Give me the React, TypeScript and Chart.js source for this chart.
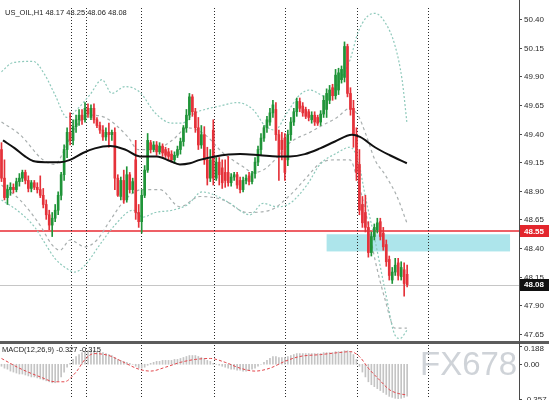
import { useEffect, useRef } from 'react';
import { Chart, registerables } from 'chart.js';

Chart.register(...registerables);

// ---- header / titles ----
const SYMBOL_TITLE = 'US_OIL,H1 48.17 48.25 48.06 48.08';
const MACD_TITLE = 'MACD(12,26,9) -0.327 -0.315';
const WATERMARK = 'FX678';

// ---- hourly candles (bar index 0..136) ----
const candleOpen = [
  49.26, 49.01, 48.84, 48.91, 48.93, 48.91, 48.98, 49.01, 49.06, 48.99,
  48.92, 48.97, 48.93, 48.91, 48.86, 48.78, 48.69, 48.60, 48.66, 48.73,
  48.86, 49.04, 49.26, 49.41, 49.34, 49.46, 49.52, 49.56, 49.52, 49.62,
  49.54, 49.62, 49.52, 49.47, 49.43, 49.37, 49.41, 49.39, 49.41, 49.01,
  48.85, 48.99, 48.82, 49.04, 48.91, 49.17, 48.71, 48.63, 48.86, 49.08,
  49.32, 49.26, 49.30, 49.24, 49.29, 49.26, 49.24, 49.22, 49.17, 49.21,
  49.26, 49.33, 49.45, 49.56, 49.72, 49.59, 49.45, 49.30, 49.39, 49.17,
  49.01, 49.43, 49.01, 49.15, 49.10, 49.06, 49.06, 48.97, 49.02, 49.04,
  48.99, 48.91, 48.99, 49.03, 48.98, 49.05, 49.15, 49.26, 49.36, 49.45,
  49.50, 49.58, 49.61, 49.39, 49.34, 49.36, 49.17, 49.39, 49.50, 49.59,
  49.68, 49.64, 49.61, 49.59, 49.52, 49.56, 49.54, 49.50, 49.57, 49.61,
  49.69, 49.80, 49.73, 49.78, 49.87, 49.89, 50.16, 49.75, 49.62, 49.39,
  49.13, 48.78, 48.71, 48.58, 48.36, 48.50, 48.56, 48.63, 48.53, 48.43,
  48.30, 48.12, 48.19, 48.27, 48.15, 48.21, 48.17,
];
const candleHigh = [
  49.32, 49.17, 48.95, 48.97, 48.96, 49.01, 49.05, 49.08, 49.08, 49.03,
  48.99, 48.99, 48.97, 49.03, 48.92, 48.82, 48.73, 48.71, 48.78, 48.89,
  49.06, 49.30, 49.45, 49.58, 49.52, 49.56, 49.61, 49.61, 49.67, 49.66,
  49.65, 49.66, 49.54, 49.50, 49.47, 49.45, 49.49, 49.43, 49.45, 49.04,
  49.02, 49.08, 49.11, 49.06, 49.01, 49.34, 48.78, 48.91, 49.12, 49.40,
  49.34, 49.33, 49.33, 49.32, 49.31, 49.28, 49.27, 49.25, 49.24, 49.29,
  49.36, 49.47, 49.61, 49.75, 49.74, 49.62, 49.54, 49.47, 49.46, 49.28,
  49.26, 49.52, 49.19, 49.19, 49.17, 49.17, 49.20, 49.05, 49.06, 49.06,
  49.02, 49.02, 49.04, 49.06, 49.07, 49.19, 49.29, 49.40, 49.47, 49.55,
  49.62, 49.69, 49.67, 49.43, 49.41, 49.40, 49.43, 49.54, 49.62, 49.71,
  49.71, 49.67, 49.63, 49.61, 49.59, 49.59, 49.56, 49.60, 49.73, 49.79,
  49.82, 49.83, 49.96, 49.97, 49.99, 50.20, 50.18, 49.80, 49.69, 49.45,
  49.26, 48.85, 48.86, 48.63, 48.54, 48.61, 48.66, 48.66, 48.58, 48.47,
  48.33, 48.23, 48.31, 48.31, 48.28, 48.27, 48.25,
];
const candleLow = [
  48.98, 48.82, 48.78, 48.86, 48.88, 48.89, 48.94, 48.98, 48.96, 48.89,
  48.89, 48.91, 48.88, 48.84, 48.75, 48.65, 48.56, 48.50, 48.63, 48.69,
  48.82, 48.99, 49.19, 49.30, 49.30, 49.41, 49.47, 49.48, 49.50, 49.54,
  49.52, 49.49, 49.45, 49.40, 49.34, 49.34, 49.28, 49.34, 48.91, 48.85,
  48.82, 48.79, 48.80, 48.88, 48.88, 48.65, 48.58, 48.53, 48.84, 49.06,
  49.23, 49.24, 49.21, 49.22, 49.20, 49.19, 49.17, 49.15, 49.14, 49.19,
  49.22, 49.29, 49.41, 49.52, 49.55, 49.41, 49.26, 49.27, 49.13, 48.95,
  48.98, 48.95, 48.99, 48.95, 48.92, 48.93, 48.94, 48.94, 48.99, 48.92,
  48.88, 48.89, 48.96, 48.95, 48.96, 49.01, 49.12, 49.21, 49.33, 49.41,
  49.47, 49.54, 49.34, 48.99, 49.17, 48.99, 49.12, 49.34, 49.47, 49.55,
  49.59, 49.55, 49.53, 49.51, 49.49, 49.47, 49.47, 49.47, 49.54, 49.54,
  49.66, 49.69, 49.70, 49.74, 49.84, 49.85, 49.72, 49.56, 49.28, 48.99,
  48.69, 48.58, 48.54, 48.32, 48.33, 48.47, 48.53, 48.47, 48.38, 48.24,
  48.12, 48.09, 48.16, 48.12, 48.12, 47.98, 48.06,
];
const candleClose = [
  49.01, 48.84, 48.91, 48.93, 48.91, 48.98, 49.01, 49.06, 48.99, 48.92,
  48.97, 48.93, 48.91, 48.86, 48.78, 48.69, 48.60, 48.66, 48.73, 48.86,
  49.04, 49.26, 49.41, 49.34, 49.46, 49.52, 49.56, 49.52, 49.62, 49.57,
  49.62, 49.52, 49.47, 49.43, 49.37, 49.41, 49.39, 49.41, 49.01, 48.86,
  48.99, 48.82, 49.04, 48.91, 48.98, 48.71, 48.63, 48.86, 49.08, 49.34,
  49.26, 49.30, 49.24, 49.29, 49.23, 49.21, 49.20, 49.17, 49.21, 49.26,
  49.33, 49.45, 49.56, 49.72, 49.59, 49.45, 49.30, 49.39, 49.17, 49.01,
  49.17, 49.01, 49.15, 49.04, 48.97, 48.99, 48.97, 49.02, 49.04, 48.95,
  48.91, 48.99, 49.01, 48.98, 49.05, 49.15, 49.26, 49.36, 49.45, 49.52,
  49.58, 49.65, 49.39, 49.21, 49.26, 49.06, 49.39, 49.50, 49.59, 49.68,
  49.62, 49.58, 49.55, 49.54, 49.56, 49.50, 49.49, 49.57, 49.69, 49.75,
  49.78, 49.73, 49.91, 49.93, 49.96, 50.16, 49.75, 49.61, 49.39, 49.06,
  48.73, 48.62, 48.58, 48.36, 48.50, 48.58, 48.62, 48.50, 48.41, 48.28,
  48.16, 48.19, 48.25, 48.16, 48.23, 48.09, 48.08,
];

// ---- moving average (bar position, price) ----
const maBar = [0.5, 4.5, 7.9, 10.6, 14.6, 19.6, 23, 27.3, 31.3, 36.4, 41.4, 46.4, 52.1, 56.5, 59.8,
  63.2, 66.5, 71.6, 80, 86.7, 92.4, 96.7, 101.7, 106.8, 111.8, 117.5, 120.2, 125.2, 130.2, 135.9];
const maPrice = [49.34, 49.27, 49.20, 49.16, 49.15, 49.15, 49.17, 49.23, 49.27, 49.29, 49.26, 49.20, 49.20, 49.16, 49.13,
  49.14, 49.17, 49.20, 49.22, 49.21, 49.20, 49.20, 49.22, 49.27, 49.33, 49.39, 49.37, 49.28, 49.21, 49.14];

// ---- outer bands (dotted) ----
const outerUpperBar = [0, 3.9, 10.6, 14.6, 17.9, 22, 25.3, 29.7, 33.7, 37, 41.4, 46.4, 51.5, 57.2, 60.5, 64.9, 68.2,
  73.2, 79, 84.3, 88.3, 91.7, 95.7, 100.1, 103.4, 109.1, 113.5, 116.8, 119.5, 122.2, 125.2, 128.6, 131.9, 134.3, 135.9];
const outerUpperPrice = [49.94, 50.02, 50.03, 49.91, 49.74, 49.54, 49.61, 49.74, 49.87, 49.75, 49.81, 49.76, 49.58, 49.49,
  49.49, 49.58, 49.61, 49.64, 49.67, 49.61, 49.47, 49.43, 49.58, 49.74, 49.78, 49.72, 49.87, 50.04, 50.28, 50.41, 50.45,
  50.37, 50.17, 49.87, 49.50];
const outerLowerBar = [0, 6.2, 11.2, 14.6, 17.9, 21.3, 24.6, 28, 33, 38, 44.1, 47.4, 51.5, 57.2, 62.5, 67.2, 71.6, 76.6,
  83.3, 87.7, 92.4, 96.7, 102.4, 106.8, 112.5, 116.8, 119.5, 122.2, 125.2, 128.6, 131.9, 133.6, 135.9];
const outerLowerPrice = [48.82, 48.71, 48.58, 48.44, 48.31, 48.23, 48.19, 48.25, 48.43, 48.60, 48.73, 48.67, 48.71, 48.73,
  48.78, 48.89, 48.86, 48.79, 48.69, 48.79, 48.76, 48.79, 48.95, 49.13, 49.23, 49.28, 49.17, 48.82, 48.47, 48.03, 47.64,
  47.61, 47.68];

// ---- inner bands (dashed) ----
const innerUpperBar = [0, 6.2, 13.9, 17.9, 21.3, 24.6, 29.7, 34.7, 42.4, 45.8, 51.5, 57.2, 62.5, 68.2, 74.3, 81, 84.3,
  87.7, 92.4, 96.7, 103.4, 106.8, 112.5, 116.8, 119.5, 122.2, 125.2, 128.6, 132.6, 135.9];
const innerUpperPrice = [49.50, 49.39, 49.17, 49.13, 49.27, 49.45, 49.56, 49.54, 49.37, 49.26, 49.26, 49.34, 49.45, 49.39,
  49.23, 49.11, 49.06, 49.08, 49.19, 49.32, 49.41, 49.46, 49.54, 49.62, 49.56, 49.39, 49.17, 49.04, 48.85, 48.62];
const innerLowerBar = [0, 6.2, 12.9, 16.9, 19.6, 23, 28, 32, 36.4, 41.4, 47.1, 53.1, 59.8, 66.5, 74.3, 82.3, 90, 96.7,
  102.4, 106.8, 112.5, 116.8, 119.5, 122.2, 125.2, 128.6, 131.9, 135.9];
const innerLowerPrice = [48.95, 48.82, 48.60, 48.43, 48.38, 48.47, 48.41, 48.47, 48.64, 48.82, 48.91, 48.91, 48.76, 48.85,
  48.82, 48.71, 48.73, 48.86, 49.02, 49.14, 49.17, 49.17, 48.98, 48.70, 48.30, 47.95, 47.70, 47.70];

// ---- MACD histogram and signal ----
const macdMain = [
  -0.02, -0.04, -0.05, -0.07, -0.08, -0.09, -0.10, -0.10, -0.11, -0.12,
  -0.13, -0.13, -0.14, -0.15, -0.16, -0.17, -0.18, -0.19, -0.19, -0.17,
  -0.13, -0.08, -0.03, 0.01, 0.05, 0.08, 0.10, 0.12, 0.13, 0.14,
  0.14, 0.14, 0.13, 0.13, 0.12, 0.11, 0.10, 0.09, 0.07, 0.05,
  0.04, 0.03, 0.02, 0.01, 0.00, -0.02, -0.04, -0.04, -0.03, -0.01,
  0.01, 0.02, 0.03, 0.03, 0.04, 0.04, 0.04, 0.04, 0.05, 0.05,
  0.06, 0.07, 0.08, 0.09, 0.09, 0.09, 0.08, 0.07, 0.06, 0.04,
  0.03, 0.01, 0.00, -0.01, -0.02, -0.03, -0.04, -0.05, -0.05, -0.06,
  -0.06, -0.07, -0.07, -0.06, -0.05, -0.04, -0.02, 0.00, 0.02, 0.04,
  0.06, 0.08, 0.08, 0.07, 0.07, 0.07, 0.08, 0.09, 0.10, 0.11,
  0.11, 0.11, 0.11, 0.11, 0.11, 0.11, 0.11, 0.11, 0.12, 0.12,
  0.12, 0.12, 0.13, 0.13, 0.13, 0.14, 0.14, 0.13, 0.10, 0.05,
  -0.02, -0.08, -0.13, -0.18, -0.21, -0.23, -0.25, -0.27, -0.29, -0.31,
  -0.33, -0.34, -0.35, -0.357, -0.35, -0.34, -0.327,
];
const signalBar = [0, 6, 13, 18, 21, 25, 28, 31, 36, 41, 46, 50, 55, 60, 65, 70, 75, 80, 85, 90, 95, 100, 107, 113,
  117, 120, 123, 127, 130, 133, 136];
const signalValue = [0.06, -0.04, -0.13, -0.18, -0.18, -0.08, 0.05, 0.11, 0.09, 0.02, -0.05, -0.07, -0.03, 0.02, 0.05,
  0.06, 0.02, -0.04, -0.07, -0.04, 0.03, 0.08, 0.10, 0.12, 0.13, 0.08, -0.04, -0.17, -0.26, -0.30, -0.315];

// ---- levels, zone, separators, axis ticks ----
const resistanceLevel = 48.55;
const lastClose = 48.08;
const zoneTop = 48.52;
const zoneBottom = 48.37;
const zoneStartBar = 109;
const zoneEndBar = 170.5;
const separatorBars = [23.3, 28.3, 46.8, 71.2, 95.0, 119.2, 143.0];
const priceTicks = [50.40, 50.15, 49.90, 49.65, 49.40, 49.15, 48.90, 48.65, 48.40, 48.15, 47.90, 47.65];
const macdTicks = [0.188, 0, -0.357];
const macdTickLabels = ['0.188', '0.00', '-0.357'];

// ---- layout ----
const WIDTH = 549;
const MAIN_H = 342;
const MACD_H = 58;
const AXIS_W = 30;
const BAR_MIN = -0.5;
const BAR_MAX = 173.5;
const PRICE_MIN = 47.579;
const PRICE_MAX = 50.566;

const UP = '#1f9438';
const DOWN = '#e5323a';
const FONT = '"Liberation Sans", Arial, sans-serif';

const candleColors = candleOpen.map((o, i) => (candleClose[i] >= o ? UP : DOWN));
const toPoints = (xs: number[], ys: number[]) => xs.map((x, i) => ({ x, y: ys[i] }));

function drawSeparators(chart: any, top: number) {
  const { ctx, chartArea, scales } = chart;
  ctx.save();
  ctx.strokeStyle = '#2a2a2a';
  ctx.lineWidth = 1;
  ctx.setLineDash([1, 2]);
  separatorBars.forEach((b) => {
    const px = Math.round(scales.x.getPixelForValue(b)) + 0.5;
    ctx.beginPath();
    ctx.moveTo(px, top);
    ctx.lineTo(px, chartArea.bottom);
    ctx.stroke();
  });
  ctx.restore();
}

function drawAxisLine(chart: any, x: number, height: number) {
  const { ctx } = chart;
  ctx.save();
  ctx.strokeStyle = '#4a4a4a';
  ctx.lineWidth = 1;
  ctx.beginPath();
  ctx.moveTo(x + 0.5, 0);
  ctx.lineTo(x + 0.5, height);
  ctx.stroke();
  ctx.restore();
}

function drawTag(ctx: CanvasRenderingContext2D, x: number, y: number, text: string, bg: string) {
  ctx.fillStyle = bg;
  ctx.fillRect(x, Math.round(y) - 6, WIDTH - x, 12);
  ctx.fillStyle = '#ffffff';
  ctx.font = `bold 8px ${FONT}`;
  ctx.textBaseline = 'middle';
  ctx.fillText(text, x + 4, y + 0.5);
}

const mainDecor = {
  id: 'mainDecor',
  beforeDatasetsDraw(chart: any) {
    const { ctx, chartArea, scales } = chart;
    const { x, y } = scales;
    ctx.save();
    // support zone
    const zx0 = x.getPixelForValue(zoneStartBar);
    const zx1 = x.getPixelForValue(zoneEndBar);
    const zy0 = y.getPixelForValue(zoneTop);
    const zy1 = y.getPixelForValue(zoneBottom);
    ctx.fillStyle = '#ade5eb';
    ctx.fillRect(zx0, zy0, zx1 - zx0, zy1 - zy0);
    // resistance level
    const ry = Math.round(y.getPixelForValue(resistanceLevel));
    ctx.fillStyle = '#ee6066';
    ctx.fillRect(chartArea.left, ry - 1, chartArea.right - chartArea.left, 2);
    // last close level
    const gy = Math.round(y.getPixelForValue(lastClose));
    ctx.fillStyle = '#c6c6c6';
    ctx.fillRect(chartArea.left, gy, chartArea.right - chartArea.left, 1);
    ctx.restore();
    drawSeparators(chart, 8);
  },
  afterDraw(chart: any) {
    const { ctx, chartArea, scales } = chart;
    const y = scales.y;
    const ax = chartArea.right;
    drawAxisLine(chart, ax, MAIN_H);
    ctx.save();
    ctx.strokeStyle = '#4a4a4a';
    ctx.fillStyle = '#2b2b2b';
    ctx.font = `8px ${FONT}`;
    ctx.textBaseline = 'middle';
    priceTicks.forEach((v) => {
      const py = Math.round(y.getPixelForValue(v)) + 0.5;
      ctx.beginPath();
      ctx.moveTo(ax, py);
      ctx.lineTo(ax + 3, py);
      ctx.stroke();
      ctx.fillText(v.toFixed(2), ax + 5, py);
    });
    drawTag(ctx, ax + 1, y.getPixelForValue(resistanceLevel), resistanceLevel.toFixed(2), '#e3262d');
    drawTag(ctx, ax + 1, y.getPixelForValue(lastClose), lastClose.toFixed(2), '#111111');
    // symbol header
    ctx.fillStyle = '#222222';
    ctx.font = `7.5px ${FONT}`;
    ctx.textBaseline = 'middle';
    ctx.fillText(SYMBOL_TITLE, 5, 13);
    // pane border
    ctx.fillStyle = '#5c5c5c';
    ctx.fillRect(0, MAIN_H - 1, WIDTH, 1);
    ctx.restore();
  },
};

const macdDecor = {
  id: 'macdDecor',
  beforeDatasetsDraw(chart: any) {
    drawSeparators(chart, 0);
  },
  afterDraw(chart: any) {
    const { ctx, chartArea, scales } = chart;
    const ax = chartArea.right;
    ctx.save();
    ctx.fillStyle = '#5c5c5c';
    ctx.fillRect(0, 0, WIDTH, 2);
    ctx.restore();
    drawAxisLine(chart, ax, MACD_H);
    ctx.save();
    // watermark
    ctx.fillStyle = 'rgba(186,193,200,0.7)';
    ctx.font = `33px ${FONT}`;
    ctx.textBaseline = 'middle';
    ctx.fillText(WATERMARK, 420, 24);
    // axis labels
    ctx.strokeStyle = '#4a4a4a';
    ctx.fillStyle = '#2b2b2b';
    ctx.font = `8px ${FONT}`;
    macdTicks.forEach((v, i) => {
      const py = Math.round(scales.y.getPixelForValue(v)) + 0.5;
      ctx.beginPath();
      ctx.moveTo(ax, py);
      ctx.lineTo(ax + 3, py);
      ctx.stroke();
      ctx.fillText(macdTickLabels[i], ax + 5, py + (i === 0 ? 2 : 0));
    });
    ctx.fillStyle = '#222222';
    ctx.font = `7.5px ${FONT}`;
    ctx.fillText(MACD_TITLE, 2, 8);
    ctx.restore();
  },
};

const bandLine = (data: { x: number; y: number }[], color: string, dash: number[]) => ({
  type: 'line' as const,
  data,
  borderColor: color,
  borderWidth: 1.2,
  borderDash: dash,
  pointRadius: 0,
  tension: 0.4,
  cubicInterpolationMode: 'monotone' as const,
  order: 5,
});

export default function App() {
  const mainRef = useRef<HTMLCanvasElement>(null);
  const macdRef = useRef<HTMLCanvasElement>(null);

  useEffect(() => {
    const xScale = { type: 'linear' as const, display: false, min: BAR_MIN, max: BAR_MAX, offset: false };

    const main = new Chart(mainRef.current as HTMLCanvasElement, {
      type: 'bar',
      data: {
        datasets: [
          {
            type: 'line',
            data: toPoints(maBar, maPrice),
            borderColor: '#111111',
            borderWidth: 2,
            pointRadius: 0,
            tension: 0.4,
            cubicInterpolationMode: 'monotone',
            order: 0,
          },
          {
            type: 'bar',
            data: candleOpen.map((o, i) => ({ x: i, y: [o, candleClose[i]] })),
            backgroundColor: candleColors,
            barThickness: 2,
            minBarLength: 1,
            grouped: false,
            order: 1,
          },
          {
            type: 'bar',
            data: candleOpen.map((_, i) => ({ x: i, y: [candleLow[i], candleHigh[i]] })),
            backgroundColor: candleColors,
            barThickness: 1,
            grouped: false,
            order: 2,
          },
          bandLine(toPoints(outerUpperBar, outerUpperPrice), '#8ec9bb', [2, 2]),
          bandLine(toPoints(outerLowerBar, outerLowerPrice), '#8ec9bb', [2, 2]),
          bandLine(toPoints(innerUpperBar, innerUpperPrice), '#a9afaf', [3, 3]),
          bandLine(toPoints(innerLowerBar, innerLowerPrice), '#a9afaf', [3, 3]),
        ] as any,
      },
      options: {
        animation: false,
        responsive: false,
        maintainAspectRatio: false,
        events: [],
        layout: { padding: { left: 0, right: AXIS_W, top: 0, bottom: 0 } },
        plugins: { legend: { display: false }, tooltip: { enabled: false } },
        scales: {
          x: xScale,
          y: { type: 'linear', display: false, min: PRICE_MIN, max: PRICE_MAX, beginAtZero: false },
        },
      },
      plugins: [mainDecor],
    });

    const macd = new Chart(macdRef.current as HTMLCanvasElement, {
      type: 'bar',
      data: {
        datasets: [
          {
            type: 'line',
            data: toPoints(signalBar, signalValue),
            borderColor: '#e2474c',
            borderWidth: 1,
            borderDash: [3, 2],
            pointRadius: 0,
            tension: 0.4,
            cubicInterpolationMode: 'monotone',
            order: 0,
          },
          {
            type: 'bar',
            data: macdMain.map((v, i) => ({ x: i, y: v })),
            backgroundColor: '#c4c4c4',
            barThickness: 1,
            grouped: false,
            order: 1,
          },
        ] as any,
      },
      options: {
        animation: false,
        responsive: false,
        maintainAspectRatio: false,
        events: [],
        layout: { padding: { left: 0, right: AXIS_W, top: 4, bottom: 1 } },
        plugins: { legend: { display: false }, tooltip: { enabled: false } },
        scales: {
          x: xScale,
          y: { type: 'linear', display: false, min: -0.357, max: 0.188, beginAtZero: false },
        },
      },
      plugins: [macdDecor],
    });

    return () => {
      main.destroy();
      macd.destroy();
    };
  }, []);

  return (
    <div style={{ position: 'absolute', left: 0, top: 0, width: WIDTH, height: MAIN_H + MACD_H, background: '#ffffff', overflow: 'hidden' }}>
      <canvas ref={mainRef} width={WIDTH} height={MAIN_H} style={{ position: 'absolute', left: 0, top: 0 }} />
      <canvas ref={macdRef} width={WIDTH} height={MACD_H} style={{ position: 'absolute', left: 0, top: MAIN_H }} />
    </div>
  );
}
